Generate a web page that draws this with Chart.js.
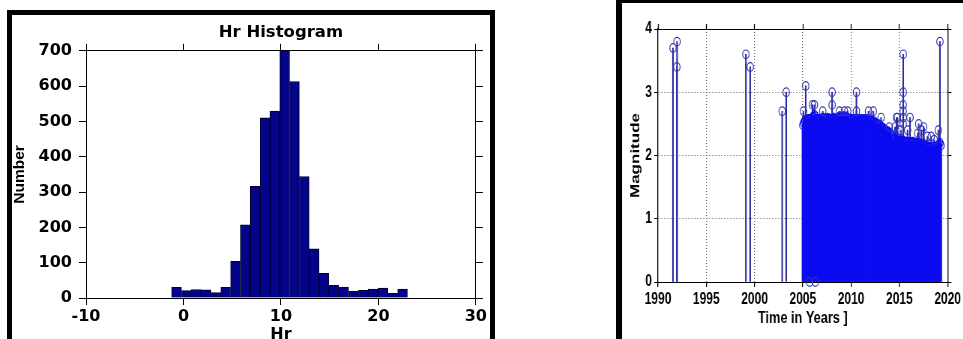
<!DOCTYPE html>
<html>
<head>
<meta charset="utf-8">
<title>Hr Histogram and Magnitude vs Time</title>
<script src="https://cdn.jsdelivr.net/npm/chart.js@4.4.1/dist/chart.umd.min.js"></script>
<style>
    html, body { margin: 0; padding: 0; background: #fff; }
    body { position: relative; width: 963px; height: 339px; overflow: hidden; }
    .frame { position: absolute; box-sizing: border-box; border-style: solid; border-color: #000; background: #fff; }
    #leftFrame { left: 7px; top: 10px; width: 488px; height: 360px; border-width: 5px; }
    #rightFrame { left: 616px; top: -3px; width: 400px; height: 400px; border-width: 6px; }
    #hrCanvas { position: absolute; left: 12px; top: 15px; }
    /* the right panel of the original is squeezed horizontally */
    #magCanvas { position: absolute; left: 622px; top: 3px; transform: scaleX(0.75); transform-origin: 0 0; }
</style>
</head>
<body>
<div class="frame" id="leftFrame"></div>
<div class="frame" id="rightFrame"></div>
<canvas id="hrCanvas" width="477" height="330"></canvas>
<canvas id="magCanvas" width="455" height="326"></canvas>
<script>
// ---- Hr histogram (left panel) ----
const hrBinCenters = [-0.71, 0.30, 1.31, 2.32, 3.33, 4.33, 5.34, 6.35, 7.36, 8.37, 9.37, 10.38,
                      11.39, 12.40, 13.41, 14.41, 15.42, 16.43, 17.44, 18.45, 19.45, 20.46, 21.47, 22.48];
const hrCounts = [30, 21, 24, 23, 15, 30, 104, 207, 316, 510, 529, 700,
                  613, 344, 139, 70, 36, 31, 19, 22, 25, 28, 13, 25];

// ---- Magnitude vs time (right panel) ----
// single events (stem + circle each)
const eventYears = [1991.55, 1991.95, 1991.97, 1999.1, 1999.55, 2002.86, 2003.28, 2005.07, 2005.3, 2005.7,
                    2006.0, 2006.2, 2006.3, 2007.06, 2008.03, 2008.03, 2008.8, 2009.3, 2009.65, 2010.55,
                    2010.55, 2011.8, 2012.3, 2013.1, 2013.96, 2014.55, 2014.7, 2014.8, 2015.15, 2015.4,
                    2015.4, 2015.4, 2015.4, 2015.4, 2015.4, 2015.85, 2016.1, 2016.9, 2017.0, 2017.3,
                    2017.5, 2017.9, 2018.3, 2018.6, 2019.03, 2019.2];
const eventMags = [3.7, 3.4, 3.8, 3.6, 3.4, 2.7, 3.0, 2.7, 3.1, 0,
                   2.8, 2.8, 0, 2.7, 2.8, 3.0, 2.7, 2.7, 2.7, 2.7,
                   3.0, 2.7, 2.7, 2.6, 2.45, 2.45, 2.6, 2.6, 2.4, 2.5,
                   2.6, 2.7, 2.8, 3.0, 3.6, 2.4, 2.6, 2.35, 2.5, 2.4,
                   2.45, 2.3, 2.3, 2.25, 2.4, 3.8];

// the dense swarm of events 2005-2019, read as its upper envelope
const swarmYears = [
    2005.0, 2005.1, 2005.2, 2005.3, 2005.4, 2005.5, 2005.6, 2005.7, 2005.8, 2005.9,
    2006.0, 2006.1, 2006.2, 2006.3, 2006.4, 2006.5, 2006.6, 2006.7, 2006.8, 2006.9,
    2007.0, 2007.1, 2007.2, 2007.3, 2007.4, 2007.5, 2007.6, 2007.7, 2007.8, 2007.9,
    2008.0, 2008.1, 2008.2, 2008.3, 2008.4, 2008.5, 2008.6, 2008.7, 2008.8, 2008.9,
    2009.0, 2009.1, 2009.2, 2009.3, 2009.4, 2009.5, 2009.6, 2009.7, 2009.8, 2009.9,
    2010.0, 2010.1, 2010.2, 2010.3, 2010.4, 2010.5, 2010.6, 2010.7, 2010.8, 2010.9,
    2011.0, 2011.1, 2011.2, 2011.3, 2011.4, 2011.5, 2011.6, 2011.7, 2011.8, 2011.9,
    2012.0, 2012.1, 2012.2, 2012.3, 2012.4, 2012.5, 2012.6, 2012.7, 2012.8, 2012.9,
    2013.0, 2013.1, 2013.2, 2013.3, 2013.4, 2013.5, 2013.6, 2013.7, 2013.8, 2013.9,
    2014.0, 2014.1, 2014.2, 2014.3, 2014.4, 2014.5, 2014.6, 2014.7, 2014.8, 2014.9,
    2015.0, 2015.1, 2015.2, 2015.3, 2015.4, 2015.5, 2015.6, 2015.7, 2015.8, 2015.9,
    2016.0, 2016.1, 2016.2, 2016.3, 2016.4, 2016.5, 2016.6, 2016.7, 2016.8, 2016.9,
    2017.0, 2017.1, 2017.2, 2017.3, 2017.4, 2017.5, 2017.6, 2017.7, 2017.8, 2017.9,
    2018.0, 2018.1, 2018.2, 2018.3, 2018.4, 2018.5, 2018.6, 2018.7, 2018.8, 2018.9,
    2019.0, 2019.1, 2019.2, 2019.3
];
const swarmMags = [
    2.48, 2.52, 2.55, 2.50, 2.55, 2.58, 2.56, 2.58, 2.58, 2.58,
    2.60, 2.62, 2.64, 2.62, 2.58, 2.58, 2.58, 2.58, 2.58, 2.58,
    2.58, 2.60, 2.58, 2.58, 2.58, 2.58, 2.60, 2.58, 2.58, 2.58,
    2.58, 2.58, 2.60, 2.58, 2.58, 2.58, 2.58, 2.60, 2.62, 2.60,
    2.62, 2.60, 2.62, 2.62, 2.60, 2.62, 2.60, 2.58, 2.58, 2.58,
    2.56, 2.58, 2.56, 2.58, 2.56, 2.58, 2.56, 2.56, 2.58, 2.56,
    2.56, 2.58, 2.56, 2.56, 2.58, 2.56, 2.56, 2.58, 2.56, 2.56,
    2.56, 2.55, 2.54, 2.52, 2.54, 2.52, 2.50, 2.50, 2.50, 2.48,
    2.48, 2.46, 2.44, 2.44, 2.42, 2.40, 2.40, 2.38, 2.38, 2.36,
    2.36, 2.34, 2.30, 2.26, 2.24, 2.26, 2.26, 2.24, 2.24, 2.26,
    2.24, 2.22, 2.24, 2.22, 2.24, 2.22, 2.22, 2.20, 2.22, 2.20,
    2.20, 2.22, 2.20, 2.20, 2.22, 2.20, 2.18, 2.20, 2.20, 2.18,
    2.18, 2.20, 2.18, 2.16, 2.18, 2.16, 2.16, 2.14, 2.16, 2.14,
    2.14, 2.12, 2.14, 2.14, 2.12, 2.14, 2.12, 2.14, 2.12, 2.14,
    2.16, 2.18, 2.20, 2.16
];

Chart.defaults.color = '#000';
Chart.defaults.font.family = "'DejaVu Sans', sans-serif";

const toPoints = (xs, ys) => xs.map((x, i) => ({ x: x, y: ys[i] }));
const noLegend = { legend: { display: false }, tooltip: { enabled: false } };

// ---------- left: Hr Histogram ----------
const wideBold = (size) => ({ family: "'DejaVu Sans', sans-serif", size: size, weight: 'bold' });

new Chart(document.getElementById('hrCanvas'), {
    type: 'bar',
    data: {
        datasets: [{
            data: toPoints(hrBinCenters, hrCounts),
            backgroundColor: '#04048a',
            borderColor: '#00002e',
            borderWidth: 1,
            barPercentage: 1,
            categoryPercentage: 1,
            grouped: false
        }]
    },
    options: {
        responsive: false,
        animation: false,
        layout: { padding: { left: 0, right: 0, top: 0, bottom: 1 } },
        plugins: {
            ...noLegend,
            title: {
                display: true,
                text: 'Hr Histogram',
                fullSize: false,
                color: '#000',
                font: wideBold(16.5),
                padding: { top: 8, bottom: 1 }
            }
        },
        scales: {
            x: {
                type: 'linear', position: 'bottom', min: -10, max: 30, offset: false,
                grid: { offset: false, drawOnChartArea: false, tickLength: 7, tickColor: '#000' },
                border: { color: '#000' },
                ticks: { stepSize: 10, autoSkip: false, maxRotation: 0, padding: 2, font: wideBold(16) },
                title: { display: true, text: 'Hr', font: wideBold(16), padding: 0 },
                afterFit: (s) => { s.height = 46; }
            },
            xTop: {
                type: 'linear', position: 'top', min: -10, max: 30, offset: false,
                grid: { offset: false, drawOnChartArea: false, tickLength: 7, tickColor: '#000' },
                border: { color: '#000' },
                ticks: { stepSize: 10, display: false },
                afterFit: (s) => { s.height = 7; }
            },
            y: {
                type: 'linear', position: 'left', min: 0, max: 700,
                grid: { drawOnChartArea: false, tickLength: 7, tickColor: '#000' },
                border: { color: '#000' },
                ticks: { stepSize: 100, padding: 7, font: wideBold(16) },
                title: {
                    display: true, text: 'Number', padding: 0,
                    font: { family: "'Liberation Sans', Arial, sans-serif", size: 15.5, weight: 'bold', lineHeight: 1 }
                },
                afterFit: (s) => { s.width = 74; }
            },
            yRight: {
                type: 'linear', position: 'right', min: 0, max: 700,
                grid: { drawOnChartArea: false, tickLength: 7, tickColor: '#000' },
                border: { color: '#000' },
                ticks: { stepSize: 100, display: false },
                afterFit: (s) => { s.width = 13; }
            }
        }
    }
});

// ---------- right: Magnitude vs Time (stem plot) ----------
const narrowBold = (size, lh) => ({ family: "'Liberation Sans', Arial, sans-serif", size: size, weight: 'bold', lineHeight: lh || 1.2 });
const hideEdge = (lo, hi) => (ctx) => (ctx.tick && (ctx.tick.value === lo || ctx.tick.value === hi)) ? 'rgba(0,0,0,0)' : '#6a6a6a';

new Chart(document.getElementById('magCanvas'), {
    type: 'bar',
    data: {
        datasets: [
            {
                type: 'scatter',
                data: toPoints(eventYears, eventMags),
                pointRadius: 4.3,
                pointBorderWidth: 1.2,
                pointBorderColor: '#3434b0',
                pointBackgroundColor: 'rgba(0,0,0,0)',
                showLine: false,
                clip: false
            },
            {
                type: 'scatter',
                data: toPoints(swarmYears, swarmMags),
                pointRadius: 4.3,
                pointBorderWidth: 1.2,
                pointBorderColor: '#0c0cf2',
                pointBackgroundColor: 'rgba(0,0,0,0)',
                showLine: false,
                clip: false
            },
            {
                type: 'bar',
                data: toPoints(swarmYears, swarmMags),
                backgroundColor: '#0c0cf2',
                barThickness: 2.4,
                grouped: false
            },
            {
                type: 'bar',
                data: toPoints(eventYears, eventMags),
                backgroundColor: '#2a2aa0',
                barThickness: 1.4,
                grouped: false
            }
        ]
    },
    options: {
        responsive: false,
        animation: false,
        layout: { padding: 0 },
        plugins: noLegend,
        scales: {
            x: {
                type: 'linear', position: 'bottom', min: 1990, max: 2020, offset: false,
                grid: { offset: false, color: hideEdge(1990, 2020), lineWidth: 1.33,
                        tickLength: 5, tickColor: '#000', tickWidth: 1.33 },
                border: { color: '#000', width: 1, dash: [1, 2] },
                ticks: { stepSize: 5, autoSkip: false, maxRotation: 0, padding: 3,
                         font: narrowBold(16), callback: (v) => String(v) },
                title: { display: true, text: 'Time in Years ]', font: narrowBold(17), padding: 0 },
                afterFit: (s) => { s.height = 47; }
            },
            xTop: {
                type: 'linear', position: 'top', min: 1990, max: 2020, offset: false,
                grid: { offset: false, drawOnChartArea: false, tickLength: 5, tickColor: '#000', tickWidth: 1.33 },
                border: { color: '#000', width: 1 },
                ticks: { stepSize: 5, display: false },
                afterFit: (s) => { s.height = 26; }
            },
            y: {
                type: 'linear', position: 'left', min: 0, max: 4,
                grid: { color: hideEdge(0, 4), lineWidth: 1, tickLength: 5, tickColor: '#000' },
                border: { color: '#000', width: 1.33, dash: [1.33, 2.67] },
                ticks: { stepSize: 1, padding: 3, font: narrowBold(16) },
                title: { display: true, text: 'Magnitude', font: narrowBold(17, 1), padding: { top: 10, bottom: 0 } },
                afterFit: (s) => { s.width = 48; }
            },
            yRight: {
                type: 'linear', position: 'right', min: 0, max: 4,
                grid: { drawOnChartArea: false, tickLength: 5, tickColor: '#000' },
                border: { color: '#000', width: 1.33 },
                ticks: { stepSize: 1, display: false },
                afterFit: (s) => { s.width = 20; }
            }
        }
    }
});
</script>
</body>
</html>
